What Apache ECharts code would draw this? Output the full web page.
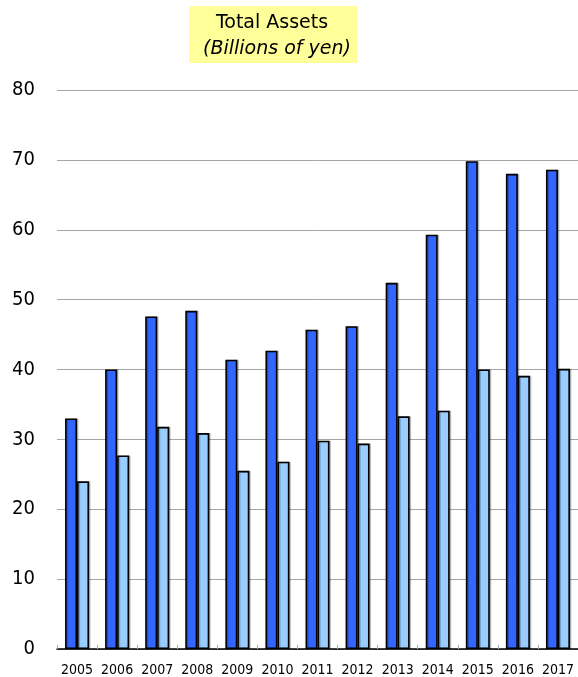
<!DOCTYPE html>
<html>
<head>
<meta charset="utf-8">
<script src="https://cdn.jsdelivr.net/npm/echarts@6/dist/echarts.min.js"></script>
<style>
  html, body { margin: 0; padding: 0; background: #fff; }
  #chart { width: 578px; height: 677px; }
</style>
</head>
<body>
<div id="chart"></div>
<script>
// Fiscal years on the category axis
const years = ['2005', '2006', '2007', '2008', '2009', '2010', '2011', '2012', '2013', '2014', '2015', '2016', '2017'];
// Total assets (billions of yen), dark bars
const assetsA = [33.0, 40.0, 47.6, 48.4, 41.4, 42.7, 45.7, 46.2, 52.4, 59.3, 69.8, 68.0, 68.6];
// Companion series (billions of yen), light bars
const assetsB = [24.0, 27.7, 31.8, 30.9, 25.5, 26.8, 29.8, 29.4, 33.3, 34.1, 40.0, 39.1, 40.1];
// Value-axis ticks
const yTicks = [0, 10, 20, 30, 40, 50, 60, 70, 80];

const chart = echarts.init(document.getElementById('chart'), null, { renderer: 'canvas' });
const FONT = 'DejaVu Sans';
const FONT_NARROW = '"DejaVu Sans Condensed", "Liberation Sans", sans-serif';

const barStyle = (color) => ({
  color: color,
  borderColor: '#000',
  borderWidth: 1.6,
  shadowColor: 'rgba(0,0,0,0.22)',
  shadowOffsetX: 1.5,
  shadowOffsetY: 0,
  shadowBlur: 0
});

chart.setOption({
  animation: false,
  backgroundColor: '#ffffff',
  graphic: [
    {
      type: 'group',
      left: 189,
      top: 6,
      children: [
        { type: 'rect', shape: { x: 0, y: 0, width: 168, height: 57 }, style: { fill: '#FFFF99' } },
        {
          type: 'text', x: 83, y: 17,
          style: { text: 'Total Assets', fontFamily: FONT, fontSize: 19, fill: '#000', align: 'center', verticalAlign: 'middle' }
        },
        {
          type: 'text', x: 88, y: 43,
          style: { text: '(Billions of yen)', fontFamily: FONT, fontSize: 19, fontStyle: 'italic', fill: '#000', align: 'center', verticalAlign: 'middle' }
        }
      ]
    }
  ],
  grid: { left: 57, right: 0, top: 90, bottom: 25, containLabel: false },
  xAxis: {
    type: 'category',
    data: years,
    axisLine: { show: true, lineStyle: { color: '#000', width: 1.5 } },
    axisTick: { show: true, inside: true, length: 4, interval: 0, lineStyle: { color: '#AAA' } },
    axisLabel: { fontFamily: FONT_NARROW, fontSize: 14, color: '#000', margin: 14, interval: 0 },
    splitLine: { show: false }
  },
  yAxis: {
    type: 'value',
    min: yTicks[0],
    max: yTicks[yTicks.length - 1],
    interval: 10,
    axisLine: { show: false },
    axisTick: { show: false },
    axisLabel: { fontFamily: FONT_NARROW, fontSize: 20, color: '#000', margin: 22 },
    splitLine: { show: true, lineStyle: { color: '#A6A6A6', width: 1 } }
  },
  series: [
    {
      name: 'Total assets',
      type: 'bar',
      data: assetsA,
      barWidth: 12,
      barGap: '0%',
      itemStyle: barStyle('#3366FF')
    },
    {
      name: 'Companion',
      type: 'bar',
      data: assetsB,
      barWidth: 12,
      barGap: '0%',
      itemStyle: barStyle('#99CCFF')
    }
  ]
});
</script>
</body>
</html>
